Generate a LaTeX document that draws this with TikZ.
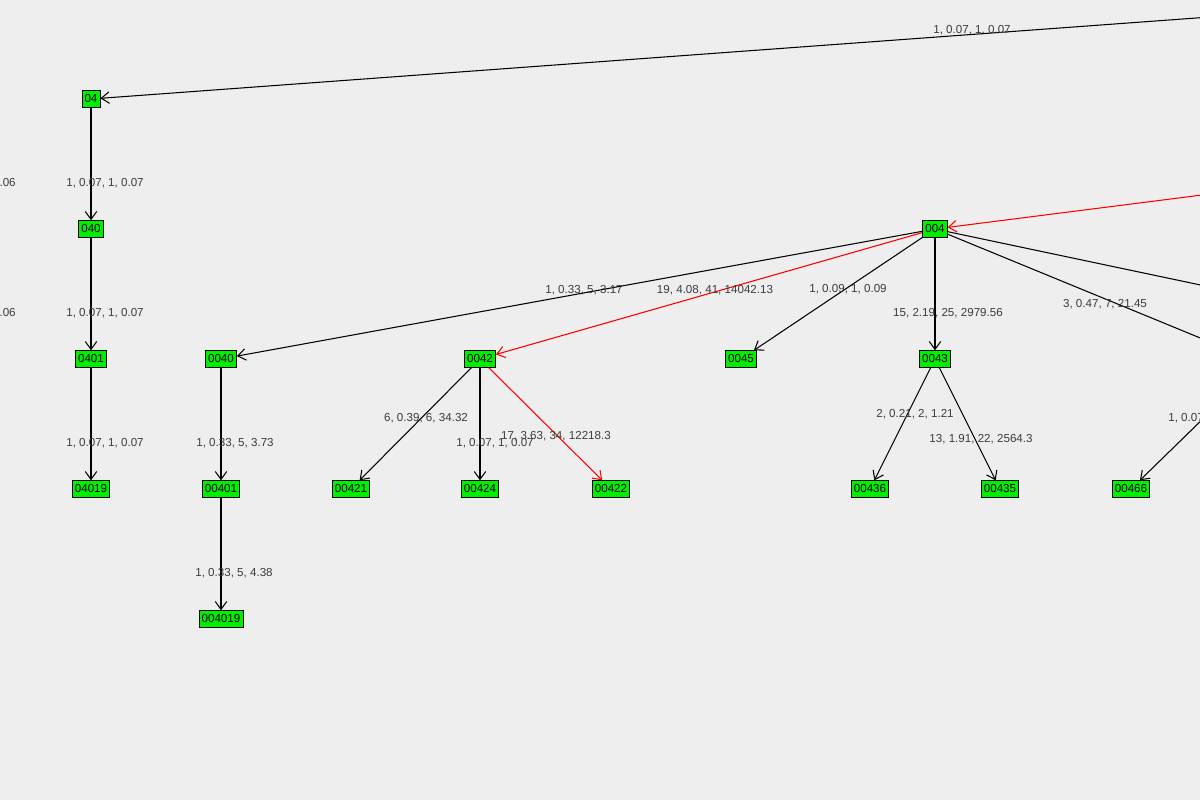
\documentclass[tikz,border=0pt]{standalone}
\usepackage{fontspec}
\setmainfont{Liberation Sans}
\usetikzlibrary{arrows.meta}
\definecolor{bgray}{RGB}{238,238,238}
\definecolor{ngreen}{RGB}{0,238,0}
\definecolor{lgray}{RGB}{60,60,60}
\begin{document}
\begin{tikzpicture}[x=0.02cm, y=-0.02cm,
    vert/.style={rectangle, draw, fill=ngreen, inner xsep=1.5pt, inner ysep=1pt, minimum height=9.5pt, font=\fontsize{6.6}{7}\selectfont},
    lbl/.style={text=lgray, font=\fontsize{6.6}{7}\selectfont, inner sep=0pt},
    link/.style={-{Straight Barb[length=4.5pt,width=6.5pt]}, semithick},
    hot/.style={link, red}]
    \fill[bgray] (0,0) rectangle (1200,800);
    \useasboundingbox (0,0) rectangle (1200,800);
    \clip (0,0) rectangle (1200,800);
    % vertices
    \node[vert] (04) at (91,99) {04};
    \node[vert] (040) at (91,229) {040};
    \node[vert] (0401) at (91,359) {0401};
    \node[vert] (04019) at (91,489) {04019};
    \node[vert] (004) at (935,229) {004};
    \node[vert] (0040) at (221,359) {0040};
    \node[vert] (00401) at (221,489) {00401};
    \node[vert] (004019) at (221,619) {004019};
    \node[vert] (0042) at (480,359) {0042};
    \node[vert] (0045) at (741,359) {0045};
    \node[vert] (0043) at (935,359) {0043};
    \node[vert] (00421) at (351,489) {00421};
    \node[vert] (00424) at (480,489) {00424};
    \node[vert] (00422) at (611,489) {00422};
    \node[vert] (00436) at (870,489) {00436};
    \node[vert] (00435) at (1000,489) {00435};
    \node[vert] (00466) at (1131,489) {00466};
    % ends off the page
    \coordinate (topsrc) at (1210,17);
    \coordinate (redsrc) at (1210,194);
    \coordinate (out1) at (1210,287);
    \coordinate (out2) at (1210,342);
    \coordinate (src66) at (1210,412);
    % edges
    \draw[link] (topsrc) -- (04);
    \draw[link] (04) -- (040);
    \draw[link] (040) -- (0401);
    \draw[link] (0401) -- (04019);
    \draw[hot] (redsrc) -- (004);
    \draw[link] (004) -- (0040);
    \draw[hot] (004) -- (0042);
    \draw[link] (004) -- (0045);
    \draw[link] (004) -- (0043);
    \draw[semithick] (004) -- (out1);
    \draw[semithick] (004) -- (out2);
    \draw[link] (0040) -- (00401);
    \draw[link] (00401) -- (004019);
    \draw[link] (0042) -- (00421);
    \draw[link] (0042) -- (00424);
    \draw[hot] (0042) -- (00422);
    \draw[link] (0043) -- (00436);
    \draw[link] (0043) -- (00435);
    \draw[link] (src66) -- (00466);
    % labels
    \node[lbl] (l1) at (972,30) {1, 0.07, 1, 0.07};
    \node[lbl, anchor=east] (l2) at (16,183) {.06};
    \node[lbl, anchor=east] (l3) at (16,313) {.06};
    \node[lbl] (l4) at (105,183) {1, 0.07, 1, 0.07};
    \node[lbl] (l5) at (105,313) {1, 0.07, 1, 0.07};
    \node[lbl] (l6) at (105,443) {1, 0.07, 1, 0.07};
    \node[lbl] (l7) at (584,290) {1, 0.33, 5, 3.17};
    \node[lbl] (l8) at (715,290) {19, 4.08, 41, 14042.13};
    \node[lbl] (l9) at (848,289) {1, 0.09, 1, 0.09};
    \node[lbl] (l10) at (948,313) {15, 2.19, 25, 2979.56};
    \node[lbl] (l11) at (1105,304) {3, 0.47, 7, 21.45};
    \node[lbl] (l12) at (235,443) {1, 0.33, 5, 3.73};
    \node[lbl] (l13) at (234,573) {1, 0.33, 5, 4.38};
    \node[lbl] (l14) at (426,418) {6, 0.39, 6, 34.32};
    \node[lbl] (l15) at (495,443) {1, 0.07, 1, 0.07};
    \node[lbl] (l16) at (556,436) {17, 3.63, 34, 12218.3};
    \node[lbl] (l17) at (915,414) {2, 0.21, 2, 1.21};
    \node[lbl] (l18) at (981,439) {13, 1.91, 22, 2564.3};
    \node[lbl, anchor=west] (l19) at (1168,418) {1, 0.07};
\end{tikzpicture}
\end{document}
